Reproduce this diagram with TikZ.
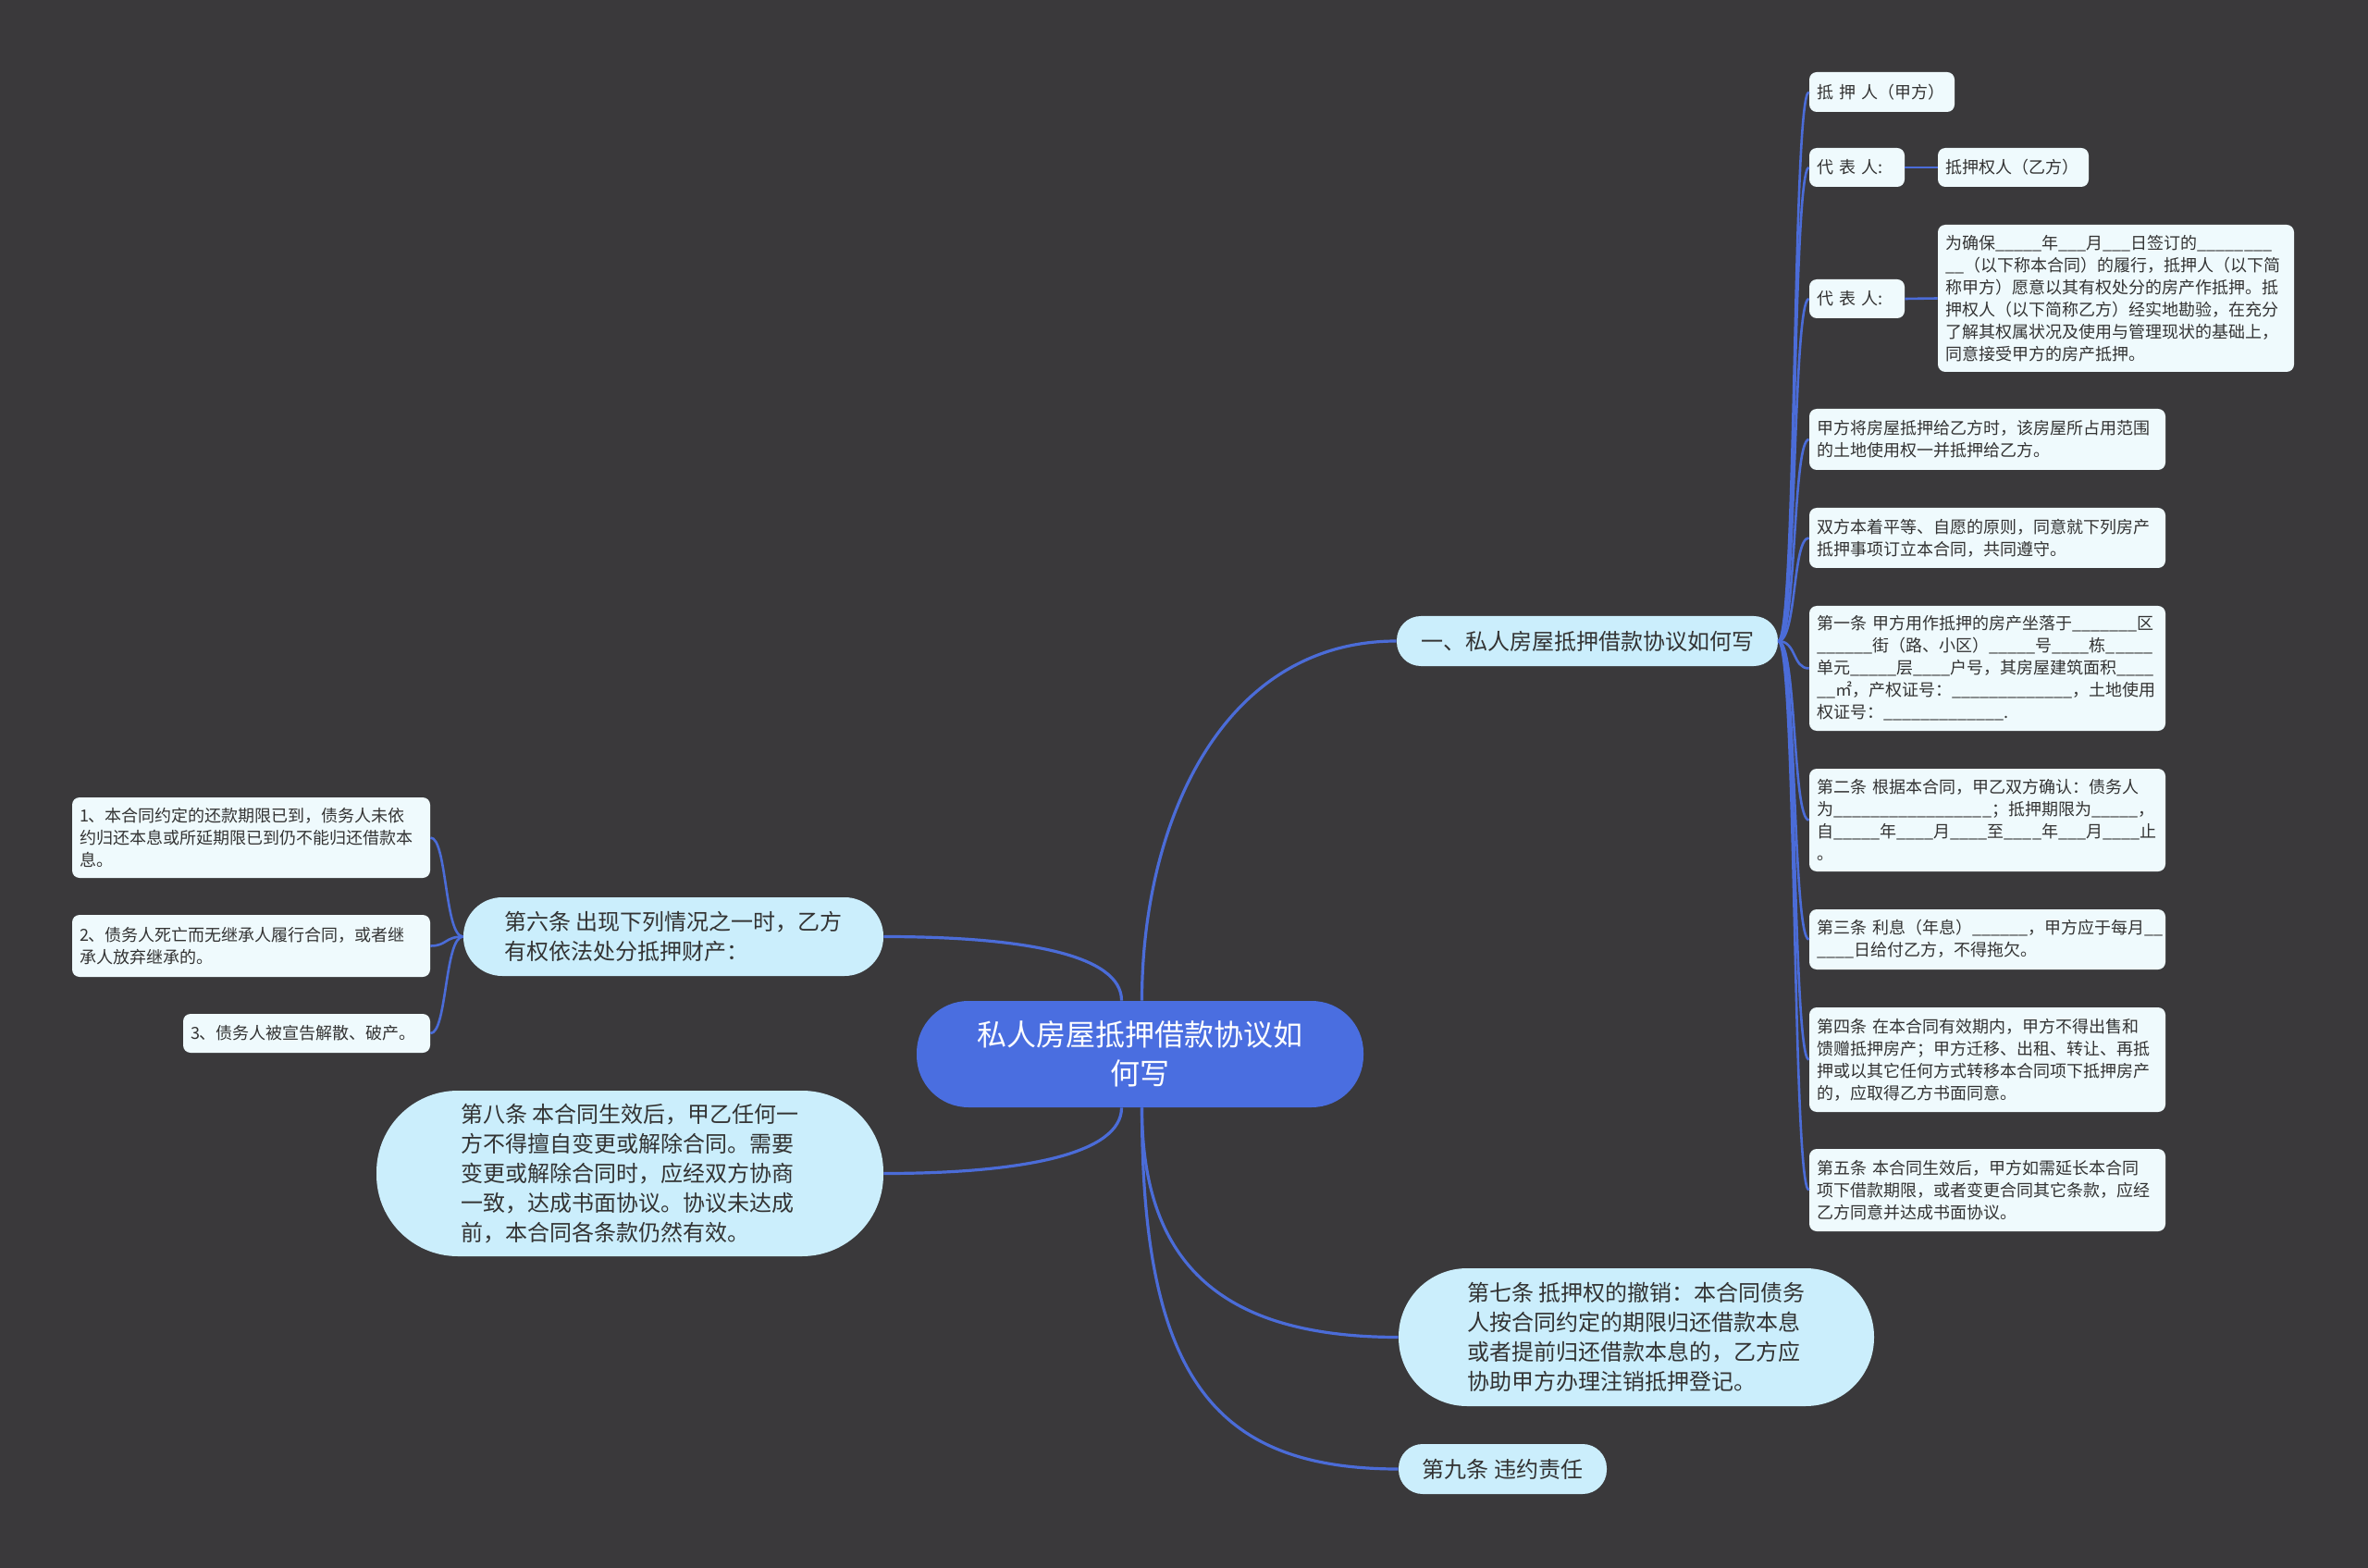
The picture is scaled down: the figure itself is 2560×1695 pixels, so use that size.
\documentclass[tikz,border=0pt]{standalone}
\usepackage{fontspec}
\setmainfont{Noto Sans CJK SC}
\definecolor{bgc}{HTML}{3A393B}
\definecolor{pillc}{HTML}{CBEEFC}
\definecolor{leafc}{HTML}{EFFAFD}
\definecolor{centc}{HTML}{4A6EE0}
\definecolor{linkc}{HTML}{4B6CD8}
\definecolor{txtc}{HTML}{333333}
\newcount\myblk
\newcommand\myblank[1]{\myblk=#1\relax\loop\ifnum\myblk>0 \_\advance\myblk by -1 \repeat}
\tikzset{
  leaf/.style={fill=leafc, rounded corners=4pt, text=txtc, font=\fontsize{9}{12}\selectfont, align=left, inner xsep=4pt, inner ysep=0pt},
  pill/.style={fill=pillc, text=txtc, font=\fontsize{12}{16}\selectfont, align=left, inner sep=0pt},
  centnode/.style={fill=centc, text=white, font=\fontsize{16}{21}\selectfont, align=center, inner sep=0pt, rounded corners=28pt},
  link/.style={draw=linkc, line width=1.6pt},
  sublink/.style={draw=linkc, line width=1.3pt},
}
\begin{document}
\begin{tikzpicture}[x=0.5pt,y=-0.5pt]
\fill[bgc] (0,0) rectangle (2560,1695);
\useasboundingbox (0,0) rectangle (2560,1695);

% center
\node[centnode, minimum width=241.5pt, minimum height=57.5pt] (c) at (1232.5,1139.5) {私人房屋抵押借款协议如\\何写};

% main branches
\node[pill, rounded corners=13pt, minimum width=206pt, minimum height=27pt] (b1) at (1716,693) {一、私人房屋抵押借款协议如何写};
\node[pill, rounded corners=21pt, minimum width=227pt, minimum height=42.5pt] (b6) at (728,1012.5) {第六条~出现下列情况之一时，乙方\\有权依法处分抵押财产：};
\node[pill, rounded corners=44pt, minimum width=274pt, minimum height=89.5pt] (b8) at (681,1268.5) {第八条~本合同生效后，甲乙任何一\\方不得擅自变更或解除合同。需要\\变更或解除合同时，应经双方协商\\一致，达成书面协议。协议未达成\\前，本合同各条款仍然有效。};
\node[pill, rounded corners=37pt, minimum width=257pt, minimum height=74.5pt] (b7) at (1769,1445.5) {第七条~抵押权的撤销：本合同债务\\人按合同约定的期限归还借款本息\\或者提前归还借款本息的，乙方应\\协助甲方办理注销抵押登记。};
\node[pill, rounded corners=13pt, minimum width=112.5pt, minimum height=27pt] (b9) at (1624.5,1588) {第九条~违约责任};

% right leaves
\node[leaf, text width=70.5pt, minimum height=21.5pt] (l1) at (2034.5,99.5) {抵~押~人（甲方）};
\node[leaf, text width=43.5pt, minimum height=21pt] (l2) at (2007.5,181) {代~表~人:};
\node[leaf, text width=73.5pt, minimum height=21pt] (l2s) at (2176.5,181) {抵押权人（乙方）};
\node[leaf, text width=43.5pt, minimum height=21pt] (l3) at (2007.5,323) {代~表~人:};
\node[leaf, text width=184.5pt, minimum height=79.5pt] (l3s) at (2287.5,322.5) {为确保\myblank{5}年\myblank{3}月\myblank{3}日签订的\myblank{8}\\\myblank{2}（以下称本合同）的履行，抵押人（以下简\\称甲方）愿意以其有权处分的房产作抵押。抵\\押权人（以下简称乙方）经实地勘验，在充分\\了解其权属状况及使用与管理现状的基础上，\\同意接受甲方的房产抵押。};
\node[leaf, text width=184.5pt, minimum height=33pt] (l4) at (2148.5,475) {甲方将房屋抵押给乙方时，该房屋所占用范围\\的土地使用权一并抵押给乙方。};
\node[leaf, text width=184.5pt, minimum height=32.5pt] (l5) at (2148.5,581.5) {双方本着平等、自愿的原则，同意就下列房产\\抵押事项订立本合同，共同遵守。};
\node[leaf, text width=184.5pt, minimum height=67.5pt] (l6) at (2148.5,722.5) {第一条~甲方用作抵押的房产坐落于\myblank{7}区\\\myblank{6}街（路、小区）\myblank{5}号\myblank{4}栋\myblank{5}\\单元\myblank{5}层\myblank{4}户号，其房屋建筑面积\myblank{4}\\\myblank{2}㎡，产权证号：\myblank{13}，土地使用\\权证号：\myblank{13}.};
\node[leaf, text width=184.5pt, minimum height=55.5pt] (l7) at (2148.5,886.5) {第二条~根据本合同，甲乙双方确认：债务人\\为\myblank{17}；抵押期限为\myblank{5}，\\自\myblank{5}年\myblank{4}月\myblank{4}至\myblank{4}年\myblank{3}月\myblank{4}止\\。};
\node[leaf, text width=184.5pt, minimum height=32.5pt] (l8) at (2148.5,1015.5) {第三条~利息（年息）\myblank{6}，甲方应于每月\myblank{2}\\\myblank{4}日给付乙方，不得拖欠。};
\node[leaf, text width=184.5pt, minimum height=56.5pt] (l9) at (2148.5,1145.5) {第四条~在本合同有效期内，甲方不得出售和\\馈赠抵押房产；甲方迁移、出租、转让、再抵\\押或以其它任何方式转移本合同项下抵押房产\\的，应取得乙方书面同意。};
\node[leaf, text width=184.5pt, minimum height=44.5pt] (l10) at (2148.5,1286.5) {第五条~本合同生效后，甲方如需延长本合同\\项下借款期限，或者变更合同其它条款，应经\\乙方同意并达成书面协议。};

% left leaves
\node[leaf, text width=185.5pt, minimum height=43.5pt] (m1) at (271.5,905.5) {1、本合同约定的还款期限已到，债务人未依\\约归还本息或所延期限已到仍不能归还借款本\\息。};
\node[leaf, text width=185.5pt, minimum height=33.5pt] (m2) at (271.5,1022.5) {2、债务人死亡而无继承人履行合同，或者继\\承人放弃继承的。};
\node[leaf, text width=125.5pt, minimum height=21pt] (m3) at (331.5,1117) {3、债务人被宣告解散、破产。};

% connectors from center
\draw[link] ([xshift=1pt]c.north) .. controls +(0,-190) and +(-190,0) .. (b1.west);
\draw[link] ([xshift=-10pt]c.north) .. controls +(0,-50) and +(150,0) .. (b6.east);
\draw[link] ([xshift=-10pt]c.south) .. controls +(0,50) and +(150,0) .. (b8.east);
\draw[link] ([xshift=1pt]c.south) .. controls +(0,170) and +(-190,0) .. (b7.west);
\draw[link] ([xshift=1pt]c.south) .. controls +(0,290) and +(-200,0) .. (b9.west);

% right leaf connectors
\foreach \n in {l1,l2,l3,l4,l5,l6,l7,l8,l9,l10}
  \draw[sublink] (b1.east) .. controls +(20,0) and +(-18,0) .. (\n.west);
\draw[sublink] (l2.east) -- (l2s.west);
\draw[sublink] (l3.east) -- (l3s.west);

% left leaf connectors
\foreach \n in {m1,m2,m3}
  \draw[sublink] (b6.west) .. controls +(-20,0) and +(18,0) .. (\n.east);
\end{tikzpicture}
\end{document}
